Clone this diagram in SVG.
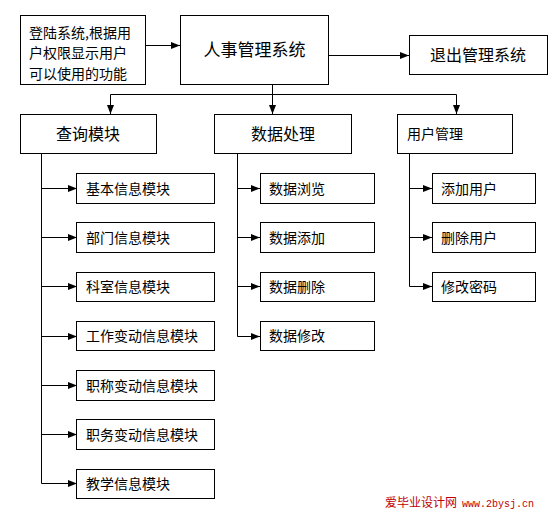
<svg xmlns="http://www.w3.org/2000/svg" width="558" height="519" viewBox="0 0 558 519">
<style>
rect{fill:#fff;stroke:#000;stroke-width:1}
text{font-family:"Noto Sans CJK SC","Liberation Sans",sans-serif;fill:#000}
.l1{font-size:16px}
.c{font-size:14px}
.lg{font-size:14px}
#connectors path{fill:none;stroke:#000;stroke-width:1}
.wm{fill:#c00000;font-size:12px}
</style>
<defs>
<marker id="ah" markerWidth="9" markerHeight="8" refX="9" refY="4" orient="auto" markerUnits="userSpaceOnUse">
<path d="M0,0.5 L9,4 L0,7.5 Z" fill="#000"/>
</marker>
</defs>
<rect x="0" y="0" width="558" height="519" style="fill:#fff;stroke:none"/>
<g id="connectors">
<path d="M145.5,45.5 H180" marker-end="url(#ah)"/>
<path d="M328.5,55.5 H409" marker-end="url(#ah)"/>
<path d="M272.5,84.5 V94.5"/>
<path d="M110.5,94.5 H456.5"/>
<path d="M110.5,94.5 V114" marker-end="url(#ah)"/>
<path d="M272.5,94.5 V114" marker-end="url(#ah)"/>
<path d="M456.5,94.5 V114" marker-end="url(#ah)"/>
<path d="M41.5,153.5 V483.5"/>
<path d="M41.5,188.5 H77" marker-end="url(#ah)"/>
<path d="M41.5,237.5 H77" marker-end="url(#ah)"/>
<path d="M41.5,286.5 H77" marker-end="url(#ah)"/>
<path d="M41.5,336.5 H77" marker-end="url(#ah)"/>
<path d="M41.5,385.5 H77" marker-end="url(#ah)"/>
<path d="M41.5,434.5 H77" marker-end="url(#ah)"/>
<path d="M41.5,483.5 H77" marker-end="url(#ah)"/>
<path d="M237.5,153.5 V336.5"/>
<path d="M237.5,188.5 H260" marker-end="url(#ah)"/>
<path d="M237.5,237.5 H260" marker-end="url(#ah)"/>
<path d="M237.5,286.5 H260" marker-end="url(#ah)"/>
<path d="M237.5,336.5 H260" marker-end="url(#ah)"/>
<path d="M409.5,153.5 V286.5"/>
<path d="M409.5,188.5 H432" marker-end="url(#ah)"/>
<path d="M409.5,237.5 H432" marker-end="url(#ah)"/>
<path d="M409.5,286.5 H432" marker-end="url(#ah)"/>
</g>
<g id="login"><rect x="20.5" y="15.5" width="125" height="69"/>
<text class="lg" x="29" y="38">登陆系统,根据用</text>
<text class="lg" x="29" y="58">户权限显示用户</text>
<text class="lg" x="29" y="79">可以使用的功能</text></g>
<g id="main"><rect x="180.5" y="15.5" width="148" height="69"/>
<text class="l1" x="254.5" y="56" text-anchor="middle" style="font-size:17px">人事管理系统</text></g>
<g id="exit"><rect x="409.5" y="35.5" width="138" height="39"/>
<text class="l1" x="478" y="61" text-anchor="middle">退出管理系统</text></g>
<g id="query"><rect x="20.5" y="114.5" width="136" height="39"/>
<text class="l1" x="88" y="140" text-anchor="middle">查询模块</text></g>
<g id="data"><rect x="214.5" y="114.5" width="137" height="39"/>
<text class="l1" x="283" y="140" text-anchor="middle">数据处理</text></g>
<g id="user"><rect x="397.5" y="114.5" width="115" height="39"/>
<text class="c" x="407" y="139">用户管理</text></g>
<g id="q1"><rect x="76.5" y="173.5" width="138" height="30"/><text class="c" x="86" y="194">基本信息模块</text></g>
<g id="q2"><rect x="76.5" y="222.5" width="138" height="30"/><text class="c" x="86" y="243">部门信息模块</text></g>
<g id="q3"><rect x="76.5" y="272.5" width="138" height="29"/><text class="c" x="86" y="292">科室信息模块</text></g>
<g id="q4"><rect x="76.5" y="321.5" width="138" height="29"/><text class="c" x="86" y="341">工作变动信息模块</text></g>
<g id="q5"><rect x="76.5" y="370.5" width="138" height="30"/><text class="c" x="86" y="391">职称变动信息模块</text></g>
<g id="q6"><rect x="76.5" y="419.5" width="138" height="30"/><text class="c" x="86" y="440">职务变动信息模块</text></g>
<g id="q7"><rect x="76.5" y="469.5" width="138" height="29"/><text class="c" x="86" y="489">教学信息模块</text></g>
<g id="d1"><rect x="260.5" y="173.5" width="114" height="30"/><text class="c" x="269" y="194">数据浏览</text></g>
<g id="d2"><rect x="260.5" y="222.5" width="114" height="30"/><text class="c" x="269" y="243">数据添加</text></g>
<g id="d3"><rect x="260.5" y="272.5" width="114" height="29"/><text class="c" x="269" y="292">数据删除</text></g>
<g id="d4"><rect x="260.5" y="321.5" width="114" height="29"/><text class="c" x="269" y="341">数据修改</text></g>
<g id="u1"><rect x="432.5" y="173.5" width="103" height="30"/><text class="c" x="441" y="194">添加用户</text></g>
<g id="u2"><rect x="432.5" y="222.5" width="103" height="30"/><text class="c" x="441" y="243">删除用户</text></g>
<g id="u3"><rect x="432.5" y="272.5" width="103" height="29"/><text class="c" x="441" y="292">修改密码</text></g>
<g id="watermark"><text class="wm" x="385" y="507">爱毕业设计网</text>
<text class="wm" x="462" y="507" style="font-family:'Liberation Mono',monospace;font-size:10px">www.2bysj.cn</text></g>
</svg>
